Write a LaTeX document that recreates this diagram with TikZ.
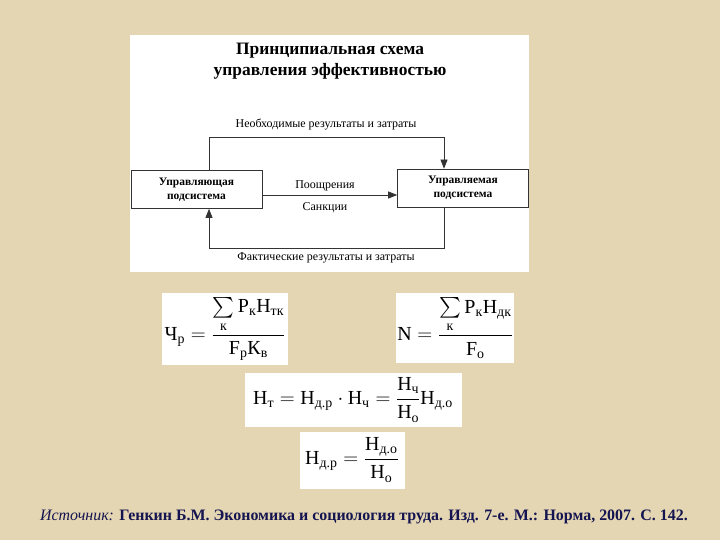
\documentclass[tikz,border=0pt]{standalone}
\usepackage{amsmath}
\usepackage{fontspec}
\setmainfont{Liberation Serif}
\usetikzlibrary{arrows.meta}
\definecolor{parch}{RGB}{228,214,178}
\definecolor{navy}{RGB}{20,20,80}
\newcommand{\tx}[1]{\text{#1}}
\begin{document}
\begin{tikzpicture}[x=1bp,y=-1bp,
  box/.style={draw=black!80,line width=0.7bp,minimum width=131bp,minimum height=38bp,align=center,font=\fontsize{11.5}{14}\selectfont\bfseries,inner sep=0},
  lbl/.style={font=\fontsize{12}{14}\selectfont},
  ln/.style={line width=0.7bp,draw=black!80},
  ar/.style={ln,-{Triangle[length=9bp,width=7bp]}},
  fm/.style={font=\fontsize{20}{24}\selectfont}]
\fill[parch] (0,0) rectangle (720,540);
\useasboundingbox (0,0) rectangle (720,540);
\fill[white] (130,35) rectangle (529,272);
\node[font=\fontsize{17.5}{21}\selectfont\bfseries,align=center] (title) at (330,61) {Принципиальная схема\\управления эффективностью};
\node[box] (L) at (196.5,189.5) {Управляющая\\подсистема};
\node[box] (R) at (463,188) {Управляемая\\подсистема};
\coordinate (t1) at (209,137);
\coordinate (t2) at (444,137);
\coordinate (b1) at (444,248);
\coordinate (b2) at (209,248);
\draw[ar] (L.north -| t1) -- (t1) -- (t2) -- (R.north -| t2);
\draw[ar] (R.south -| b1) -- (b1) -- (b2) -- (L.south -| b2);
\draw[ar] (L.east |- 0,195) -- (R.west |- 0,195);
\node[lbl] (n1) at (326,125) {Необходимые результаты и затраты};
\node[lbl] (n2) at (326,258) {Фактические результаты и затраты};
\node[lbl] (n3) at (325,186) {Поощрения};
\node[lbl] (n4) at (325,208) {Санкции};
\fill[white] (162,293) rectangle (288,365);
\fill[white] (396,293) rectangle (514,363);
\fill[white] (245,373) rectangle (462,427);
\fill[white] (300,432) rectangle (405,489);
\node[fm] (f1) at (225,329) {$\tx{Ч}_{\tx{р}} = \dfrac{\sum\limits_{\tx{к}}\tx{Р}_{\tx{к}}\tx{Н}_{\tx{тк}}}{\tx{F}_{\tx{р}}\tx{К}_{\tx{в}}}$};
\node[fm] (f2) at (455,328) {$\tx{N} = \dfrac{\sum\limits_{\tx{к}}\tx{Р}_{\tx{к}}\tx{Н}_{\tx{дк}}}{\tx{F}_{\tx{о}}}$};
\node[fm] (f3) at (353,400) {$\tx{Н}_{\tx{т}} = \tx{Н}_{\tx{д.р}}\cdot\tx{Н}_{\tx{ч}} = \dfrac{\tx{Н}_{\tx{ч}}}{\tx{Н}_{\tx{о}}}\tx{Н}_{\tx{д.о}}$};
\node[fm] (f4) at (352,460) {$\tx{Н}_{\tx{д.р}} = \dfrac{\tx{Н}_{\tx{д.о}}}{\tx{Н}_{\tx{о}}}$};
\node[font=\fontsize{16}{19}\selectfont,text=navy] (src) at (364,517) {\textit{Источник:} \textbf{Генкин Б.М. Экономика и социология труда. Изд. 7-е. М.: Норма, 2007. С. 142.}};
\end{tikzpicture}
\end{document}
